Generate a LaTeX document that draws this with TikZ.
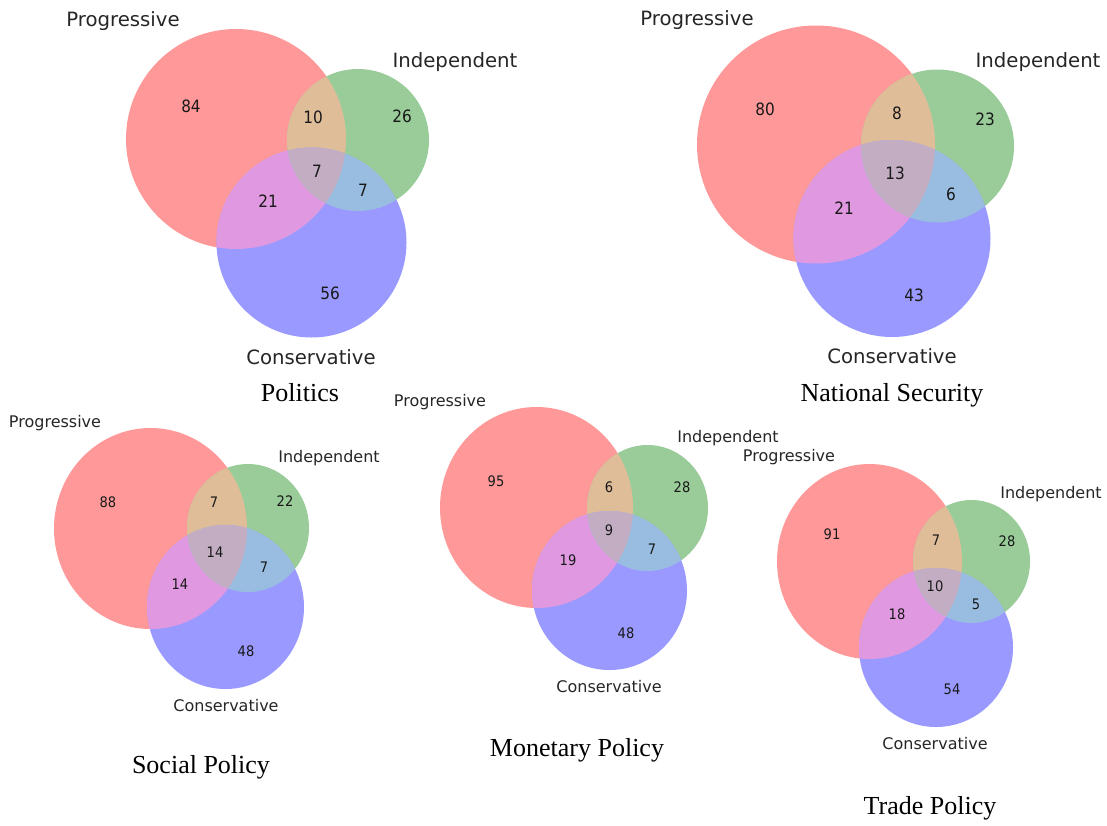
\documentclass[tikz,border=0pt]{standalone}
\usepackage{fontspec}
\setmainfont{Liberation Serif}
\setsansfont{DejaVu Sans}
\newfontfamily\countfont[FakeStretch=0.9]{DejaVu Sans}

% region colours: each set at 40% on white, overlaps lightened mixes
\definecolor{proC}{RGB}{255,153,153}
\definecolor{indC}{RGB}{153,204,153}
\definecolor{conC}{RGB}{153,153,255}
\definecolor{proindC}{RGB}{224,189,153}
\definecolor{proconC}{RGB}{224,153,224}
\definecolor{indconC}{RGB}{153,189,224}
\definecolor{allC}{RGB}{194,173,194}
\definecolor{labelC}{RGB}{38,38,38}

% three-set diagram: #1 progressive, #2 independent, #3 conservative
\newcommand\vennregions[3]{%
  \fill[proC] #1; \fill[indC] #2; \fill[conC] #3;
  \begin{scope}\clip #1; \fill[proindC] #2; \fill[proconC] #3; \end{scope}
  \begin{scope}\clip #2; \fill[indconC] #3; \end{scope}
  \begin{scope}\clip #1; \clip #2; \fill[allC] #3; \end{scope}%
}

\begin{document}
\begin{tikzpicture}[x=1pt,y=-1pt,
  bigname/.style={font=\sffamily\fontsize{19.7}{20}\selectfont, text=labelC, inner sep=0pt},
  bigcount/.style={font=\countfont\fontsize{17}{17}\selectfont, text=black!90, inner sep=0pt},
  smallname/.style={font=\sffamily\fontsize{16}{16}\selectfont, text=labelC, inner sep=0pt},
  smallcount/.style={font=\countfont\fontsize{14.5}{15}\selectfont, text=black!90, inner sep=0pt},
  caption/.style={font=\fontsize{26}{27}\selectfont, inner sep=0pt}]
\useasboundingbox (0,0) rectangle (1107,825);

% ---------- Politics ----------
\vennregions{(236,139) circle [radius=110pt]}
            {(358,140) circle [radius=71pt]}
            {(311.5,242.5) circle [radius=95pt]}
\node[bigname] (pol-pro) at (123,21) {Progressive};
\node[bigname] (pol-ind) at (455,62) {Independent};
\node[bigname] (pol-con) at (311,357) {Conservative};
\node[bigcount] (pol-a) at (191,106) {84};
\node[bigcount] (pol-ab) at (313,117) {10};
\node[bigcount] (pol-b) at (402,116) {26};
\node[bigcount] (pol-abc) at (317,171) {7};
\node[bigcount] (pol-bc) at (363,190) {7};
\node[bigcount] (pol-ac) at (268,201) {21};
\node[bigcount] (pol-c) at (330,293) {56};
\node[caption] (pol-title) at (300,393) {Politics};

% ---------- National Security ----------
\vennregions{(816,144.5) circle [radius=119pt]}
            {(937.5,146) circle [radius=76.5pt]}
            {(892,238.5) circle [radius=98.5pt]}
\node[bigname] (nat-pro) at (697,20) {Progressive};
\node[bigname] (nat-ind) at (1038,62) {Independent};
\node[bigname] (nat-con) at (892,356) {Conservative};
\node[bigcount] (nat-a) at (765,109) {80};
\node[bigcount] (nat-ab) at (897,113) {8};
\node[bigcount] (nat-b) at (985,119) {23};
\node[bigcount] (nat-abc) at (895,173) {13};
\node[bigcount] (nat-bc) at (951,194) {6};
\node[bigcount] (nat-ac) at (844,208) {21};
\node[bigcount] (nat-c) at (914,295) {43};
\node[caption] (nat-title) at (892,395) {National Security};

% ---------- Social Policy ----------
\vennregions{(150.5,528.5) ellipse [x radius=96.5pt, y radius=100.5pt]}
            {(248,528) ellipse [x radius=61pt, y radius=64pt]}
            {(225.5,607) ellipse [x radius=78.5pt, y radius=82pt]}
\node[smallname] (soc-pro) at (55,423) {Progressive};
\node[smallname] (soc-ind) at (329,458) {Independent};
\node[smallname] (soc-con) at (226,706) {Conservative};
\node[smallcount] (soc-a) at (108,502) {88};
\node[smallcount] (soc-ab) at (214,502) {7};
\node[smallcount] (soc-b) at (285,501) {22};
\node[smallcount] (soc-abc) at (215,552) {14};
\node[smallcount] (soc-bc) at (264,567) {7};
\node[smallcount] (soc-ac) at (180,584) {14};
\node[smallcount] (soc-c) at (246,651) {48};
\node[caption] (soc-title) at (201,767) {Social Policy};

% ---------- Monetary Policy ----------
\vennregions{(536.5,507.5) ellipse [x radius=96.5pt, y radius=100.5pt]}
            {(647.5,508) ellipse [x radius=60.5pt, y radius=63pt]}
            {(609.5,590.5) ellipse [x radius=77.5pt, y radius=79.5pt]}
\node[smallname] (mon-pro) at (440,402) {Progressive};
\node[smallname] (mon-ind) at (728,438) {Independent};
\node[smallname] (mon-con) at (609,687) {Conservative};
\node[smallcount] (mon-a) at (496,481) {95};
\node[smallcount] (mon-ab) at (609,487) {6};
\node[smallcount] (mon-b) at (682,487) {28};
\node[smallcount] (mon-abc) at (609,530) {9};
\node[smallcount] (mon-bc) at (652,549) {7};
\node[smallcount] (mon-ac) at (568,560) {19};
\node[smallcount] (mon-c) at (626,633) {48};
\node[caption] (mon-title) at (577,750) {Monetary Policy};

% ---------- Trade Policy ----------
\vennregions{(869.5,561.5) ellipse [x radius=92.5pt, y radius=97.5pt]}
            {(971.5,561.5) ellipse [x radius=58.5pt, y radius=61.5pt]}
            {(936,647.5) ellipse [x radius=77pt, y radius=79.5pt]}
\node[smallname] (trd-pro) at (789,457) {Progressive};
\node[smallname] (trd-ind) at (1051,494) {Independent};
\node[smallname] (trd-con) at (935,744) {Conservative};
\node[smallcount] (trd-a) at (832,534) {91};
\node[smallcount] (trd-ab) at (936,540) {7};
\node[smallcount] (trd-b) at (1007,541) {28};
\node[smallcount] (trd-abc) at (935,586) {10};
\node[smallcount] (trd-bc) at (976,604) {5};
\node[smallcount] (trd-ac) at (897,614) {18};
\node[smallcount] (trd-c) at (952,689) {54};
\node[caption] (trd-title) at (930,808) {Trade Policy};
\end{tikzpicture}
\end{document}
